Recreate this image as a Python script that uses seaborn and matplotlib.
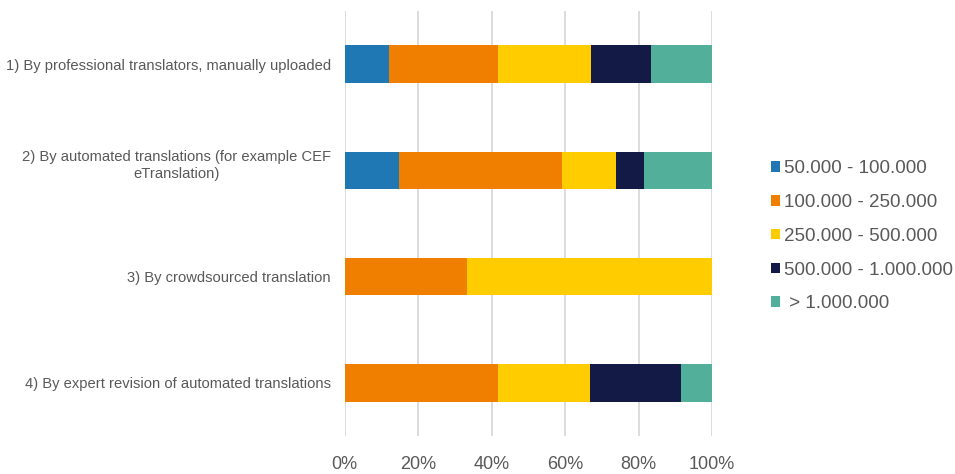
import numpy as np
import pandas as pd
import seaborn as sns
import matplotlib.pyplot as plt
from matplotlib.patches import Patch
from matplotlib.ticker import PercentFormatter
from matplotlib.transforms import ScaledTranslation

# share of answers per size class (percent of each row)
categories = [
    "1) By professional translators, manually uploaded",
    "2) By automated translations (for example CEF\neTranslation)",
    "3) By crowdsourced translation",
    "4) By expert revision of automated translations",
]
series = ["50.000 - 100.000", "100.000 - 250.000", "250.000 - 500.000",
          "500.000 - 1.000.000", " > 1.000.000"]
small = [12.0, 14.8, 0.0, 0.0]
medium = [29.7, 44.4, 33.3, 41.7]
large = [25.4, 14.8, 66.7, 25.0]
xlarge = [16.4, 7.4, 0.0, 25.0]
huge = [16.5, 18.6, 0.0, 8.3]
colors = ["#1F77B4", "#F07F00", "#FFCC00", "#131A45", "#52B09A"]

sns.set_style("white")
plt.rcParams["font.family"] = ["Liberation Sans", "DejaVu Sans"]

values = np.array([small, medium, large, xlarge, huge])
cum = values.cumsum(axis=0)

fig, ax = plt.subplots(figsize=(9.55, 4.74), dpi=100)
fig.subplots_adjust(left=0.361, right=0.7455, top=0.977, bottom=0.08)

# draw cumulative bars from the longest down so each segment shows
for i in range(len(series) - 1, -1, -1):
    df = pd.DataFrame({"cat": categories, "val": cum[i]})
    sns.barplot(data=df, x="val", y="cat", color=colors[i], width=0.35,
                orient="h", ax=ax, saturation=1, linewidth=0)

ax.set_xlim(0, 100)
ax.set_xticks(np.arange(0, 101, 20))
ax.xaxis.set_major_formatter(PercentFormatter(decimals=0))
ax.set_xlabel("")
ax.set_ylabel("")
ax.grid(axis="x", color="#D9D9D9", linewidth=1.3)
ax.set_axisbelow(True)
for s in ax.spines.values():
    s.set_visible(False)
ax.tick_params(axis="x", length=0, pad=14, labelsize=13, labelcolor="#595959")
ax.tick_params(axis="y", length=0, pad=10, labelsize=10.6, labelcolor="#595959")
for lab in ax.get_yticklabels():
    lab.set_multialignment("center")
    lab.set_linespacing(1.35)
# two-line label sits a little above its bar, as in the original
lab2 = ax.get_yticklabels()[1]
lab2.set_transform(lab2.get_transform() + ScaledTranslation(0, 6 / 72, fig.dpi_scale_trans))

handles = [Patch(facecolor=c, edgecolor="none") for c in colors]
leg = ax.legend(handles, series, loc="center left", bbox_to_anchor=(1.115, 0.47),
                frameon=False, fontsize=13.5, handlelength=0.5, handleheight=0.5,
                handletextpad=0.2, labelspacing=0.9, labelcolor="#595959")

fig.savefig("out.png", dpi=100)
